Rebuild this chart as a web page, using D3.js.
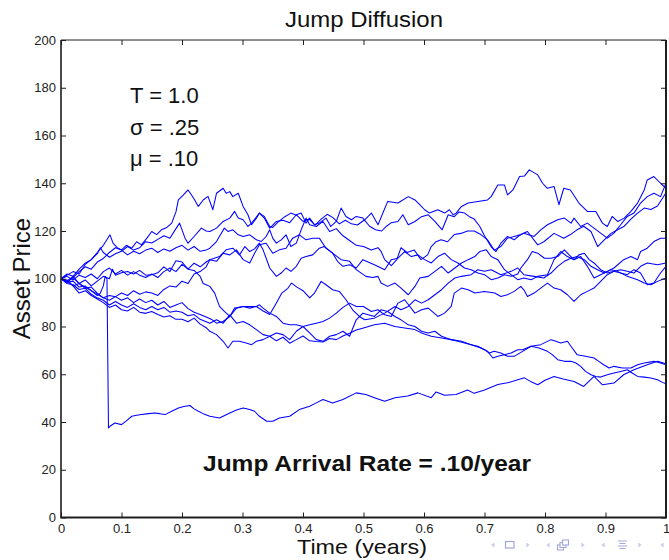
<!DOCTYPE html>
<html><head><meta charset="utf-8">
<script src="https://cdn.jsdelivr.net/npm/d3@7"></script>
<style>html,body{margin:0;padding:0;background:#fff;}svg{display:block;}</style>
</head><body>
<script>
// ---------- data ----------
const xTicks = [0,0.1,0.2,0.3,0.4,0.5,0.6,0.7,0.8,0.9,1];
const xTickLabels = ["0","0.1","0.2","0.3","0.4","0.5","0.6","0.7","0.8","0.9","1"];
const yTicks = [0,20,40,60,80,100,120,140,160,180,200];
const titleText = "Jump Diffusion";
const xLabel = "Time (years)";
const yLabel = "Asset Price";
const paramLines = ["T = 1.0", "\u03C3 = .25", "\u03BC = .10"];
const noteText = "Jump Arrival Rate = .10/year";

// sample paths: [time, price]
const pathHighA = [[0,100],[0.01,101.5],[0.02,103],[0.03,102],[0.04,106],[0.05,108],[0.06,111],[0.07,114],[0.081,118.4],[0.086,114.9],[0.093,113],[0.1,112.1],[0.108,114],[0.117,112.8],[0.125,115.5],[0.133,114.2],[0.142,117],[0.15,119.8],[0.158,118.5],[0.166,120.5],[0.175,121.5],[0.183,123.3],[0.19,128],[0.194,133],[0.202,135],[0.21,137.2],[0.216,135],[0.221,133],[0.227,130.3],[0.235,133],[0.243,134.5],[0.251,128.9],[0.257,135.8],[0.268,137.9],[0.273,135.8],[0.279,136.5],[0.284,134.4],[0.293,135.8],[0.301,130.3],[0.309,126.8],[0.315,122.6],[0.323,125.4],[0.328,127.5],[0.336,126.1],[0.345,121.9],[0.35,121.5],[0.36,124],[0.37,126],[0.38,127.5],[0.39,126.5],[0.4,124],[0.41,125],[0.42,122.5],[0.43,125],[0.44,127],[0.45,125.5],[0.46,123],[0.47,124.5],[0.48,123],[0.49,122.5],[0.502,124.7],[0.513,127.5],[0.524,122.6],[0.54,132.4],[0.557,131.7],[0.574,134.4],[0.585,133],[0.593,131],[0.601,128.9],[0.609,127.5],[0.623,128.9],[0.634,127.5],[0.642,128.9],[0.648,126.8],[0.653,127.5],[0.662,130.3],[0.673,131.7],[0.689,132.4],[0.705,133],[0.711,134.4],[0.722,139.3],[0.733,139.3],[0.738,135.1],[0.747,137.2],[0.758,142.8],[0.766,143],[0.774,145.6],[0.788,143.5],[0.796,140],[0.804,137.9],[0.815,138.6],[0.823,131],[0.831,137.9],[0.842,137.2],[0.856,131.7],[0.87,128.2],[0.884,128.2],[0.895,123.3],[0.903,121.9],[0.911,126.1],[0.92,124],[0.931,125.4],[0.942,128.2],[0.953,131.7],[0.964,137.2],[0.969,141.4],[0.98,142.8],[0.991,140],[1.0,137.9]];
const pathHighB = [[0,100],[0.01,102],[0.02,101],[0.03,104],[0.04,106.5],[0.05,108],[0.06,110.5],[0.065,113],[0.07,111],[0.08,109],[0.09,110.5],[0.1,111.5],[0.11,113.5],[0.12,112],[0.13,113],[0.14,115.5],[0.15,115],[0.16,116.5],[0.17,118],[0.18,117],[0.19,121],[0.196,123.3],[0.205,117],[0.21,114.9],[0.22,117.7],[0.232,121.2],[0.24,120],[0.246,119.8],[0.257,121.2],[0.268,124],[0.279,125.4],[0.287,128.2],[0.293,125.4],[0.301,124.7],[0.309,121.9],[0.315,123.3],[0.328,127.5],[0.336,125.4],[0.345,121.2],[0.356,124],[0.367,124.5],[0.378,123.5],[0.389,126.8],[0.397,127.5],[0.405,123.3],[0.411,125.4],[0.419,122.6],[0.427,123.3],[0.438,125.4],[0.446,121.9],[0.455,124],[0.463,129.6],[0.471,126.1],[0.48,124.7],[0.488,126.1],[0.499,125.4],[0.51,122],[0.52,120.5],[0.53,120],[0.538,122],[0.546,123.5],[0.557,124],[0.565,126.8],[0.574,122.6],[0.585,124],[0.596,126],[0.607,126.8],[0.618,124],[0.63,120.5],[0.64,126.8],[0.65,126],[0.658,128],[0.667,127.5],[0.675,126],[0.683,125],[0.692,122],[0.7,118],[0.711,113.4],[0.719,111.4],[0.727,114.9],[0.738,117.7],[0.749,116.3],[0.757,118],[0.765,119.1],[0.782,117.7],[0.793,120.5],[0.804,122.6],[0.821,124.7],[0.832,125.4],[0.843,123.3],[0.848,125.4],[0.859,121.9],[0.87,123.3],[0.881,121.2],[0.892,119.1],[0.903,117],[0.914,119.1],[0.925,122.6],[0.936,126.1],[0.947,127.5],[0.958,131.7],[0.969,134.4],[0.98,135.8],[0.991,134.4],[1.0,140]];
const pathHighC = [[0,100],[0.01,98.5],[0.02,100.5],[0.03,103],[0.04,105],[0.05,104],[0.06,107],[0.07,108.5],[0.08,111],[0.09,113],[0.1,112],[0.11,110],[0.12,111.5],[0.13,110.5],[0.14,112],[0.15,112.8],[0.16,111],[0.17,112.5],[0.18,111.5],[0.19,113],[0.2,114],[0.21,112],[0.22,113.5],[0.23,111.5],[0.24,112],[0.246,112.8],[0.257,115.6],[0.265,119.1],[0.27,121.2],[0.276,119.8],[0.284,120.5],[0.293,118.4],[0.301,117.7],[0.312,118.4],[0.323,116.3],[0.331,115.6],[0.339,117.7],[0.345,120.5],[0.35,117],[0.356,114.9],[0.364,116.3],[0.372,118.4],[0.38,113.5],[0.389,114.9],[0.397,120.5],[0.405,125.4],[0.411,122.6],[0.422,121.9],[0.433,124],[0.444,119.8],[0.455,121],[0.466,118],[0.477,116],[0.488,114],[0.5,113.5],[0.513,112],[0.524,113],[0.529,111.5],[0.535,108],[0.546,105.5],[0.555,108],[0.562,113],[0.572,111],[0.584,112],[0.595,108],[0.606,110],[0.612,113.5],[0.62,115.5],[0.628,116.3],[0.639,115.5],[0.65,118.5],[0.661,119],[0.672,120],[0.683,120],[0.694,118.5],[0.705,116.3],[0.716,112],[0.727,113.5],[0.738,117],[0.749,117.7],[0.76,118.5],[0.771,119.8],[0.788,114.2],[0.798,115.5],[0.815,119],[0.831,117],[0.842,118.5],[0.853,120.5],[0.864,122],[0.876,119.8],[0.887,113.5],[0.898,116.3],[0.909,119],[0.92,120.5],[0.931,122],[0.942,125],[0.953,127.5],[0.964,129.6],[0.975,129],[0.986,130.5],[1.0,136]];
const pathMidA = [[0,100],[0.01,101],[0.02,99.5],[0.03,101.5],[0.04,100.5],[0.05,102],[0.06,100],[0.07,103],[0.08,104.5],[0.09,102],[0.1,103.5],[0.11,101.5],[0.12,103],[0.13,101.5],[0.14,100.5],[0.15,102],[0.16,100.5],[0.17,103],[0.18,104.5],[0.19,103],[0.2,106],[0.21,104],[0.22,106.5],[0.23,105],[0.24,107],[0.246,108],[0.262,109.3],[0.273,112.1],[0.284,112.8],[0.295,110],[0.304,113.5],[0.312,111.4],[0.32,112.5],[0.328,114.9],[0.334,112.1],[0.345,104.5],[0.356,101],[0.364,102.4],[0.372,104.5],[0.38,103.1],[0.389,105.2],[0.397,108.6],[0.405,109.3],[0.416,110],[0.427,112.8],[0.435,113.5],[0.449,110.7],[0.457,107.3],[0.466,105.2],[0.477,105.9],[0.488,104.5],[0.499,108],[0.518,105.9],[0.535,103.8],[0.546,108],[0.557,108.6],[0.568,111.4],[0.579,109.3],[0.59,110],[0.601,108],[0.612,106.6],[0.623,109.3],[0.634,110.7],[0.645,108],[0.656,106.6],[0.667,104.5],[0.678,103.8],[0.689,102.4],[0.7,101.7],[0.711,99.6],[0.722,100.3],[0.733,101.7],[0.744,101],[0.755,102],[0.76,104.5],[0.771,108],[0.779,111.4],[0.788,110.7],[0.799,108.6],[0.81,108.6],[0.821,109.3],[0.832,112.1],[0.84,110],[0.848,108],[0.856,110],[0.865,110.7],[0.873,108],[0.881,106.6],[0.892,103.8],[0.903,102.4],[0.914,103.1],[0.925,103.8],[0.936,103.1],[0.947,102.4],[0.958,105.2],[0.969,106.6],[0.986,105.9],[1.0,106.6]];
const pathMidB = [[0,100],[0.01,99.5],[0.02,97],[0.03,98],[0.04,96],[0.05,96.5],[0.06,94],[0.07,92],[0.08,93],[0.09,92.5],[0.1,94],[0.11,93],[0.12,95],[0.13,93.5],[0.14,94.5],[0.15,94],[0.16,93],[0.17,95.5],[0.18,97],[0.19,96.5],[0.2,99],[0.21,98],[0.22,102],[0.23,103],[0.24,105],[0.246,108],[0.257,107.3],[0.268,110.7],[0.279,110],[0.29,112.1],[0.301,108],[0.312,106.6],[0.32,110.7],[0.328,114.2],[0.339,114.9],[0.35,110.7],[0.361,112.1],[0.372,112.8],[0.383,117],[0.394,118.4],[0.405,116.3],[0.416,117],[0.427,117],[0.438,112.8],[0.449,110.7],[0.463,108],[0.477,107.3],[0.488,103.8],[0.504,101],[0.515,100.5],[0.524,101],[0.529,98.2],[0.54,96.8],[0.552,98.2],[0.562,96.1],[0.574,93.3],[0.585,96.8],[0.593,100.3],[0.607,101],[0.618,103.1],[0.629,105.2],[0.64,102.4],[0.651,104.5],[0.662,106.6],[0.673,108],[0.684,109.3],[0.692,111.4],[0.703,112.1],[0.711,109.3],[0.722,108],[0.733,103.8],[0.744,101.7],[0.755,99.6],[0.765,100.3],[0.777,99.6],[0.788,101],[0.804,101.7],[0.815,108],[0.826,111.4],[0.837,109.3],[0.848,108],[0.859,109.3],[0.87,105.2],[0.881,100.3],[0.892,101.7],[0.903,103.1],[0.914,104.5],[0.93,108],[0.942,109.3],[0.953,108],[0.958,111.4],[0.969,112.8],[0.98,115.6],[0.991,117],[1.0,117]];
const pathMidC = [[0,100],[0.01,99],[0.02,100.5],[0.03,98],[0.04,99.5],[0.05,97],[0.06,99],[0.07,101],[0.08,100],[0.085,104],[0.09,101.5],[0.1,102.5],[0.11,103],[0.12,102],[0.13,103.5],[0.14,101.5],[0.15,101.7],[0.16,102.5],[0.17,105],[0.18,103],[0.19,107.5],[0.2,107],[0.21,104],[0.22,103.5],[0.23,101],[0.235,98],[0.24,97.5],[0.246,96.8],[0.254,94],[0.262,88.4],[0.27,86.3],[0.279,84.2],[0.287,87.7],[0.301,88.4],[0.312,88.4],[0.323,88.4],[0.328,89.1],[0.334,87.7],[0.345,85.6],[0.356,84.2],[0.367,81.4],[0.378,80.7],[0.389,80.7],[0.4,80],[0.411,80.7],[0.422,81.4],[0.433,82.1],[0.444,83.5],[0.455,85.6],[0.466,88],[0.477,89.8],[0.488,88.4],[0.5,88.4],[0.513,86.3],[0.524,87],[0.535,84.9],[0.546,84.2],[0.557,89.8],[0.568,91.2],[0.585,85.6],[0.596,87],[0.607,87.7],[0.623,84.2],[0.634,85.6],[0.645,88.4],[0.65,94],[0.662,96.1],[0.673,95.4],[0.684,94],[0.7,94.7],[0.717,94],[0.727,92.6],[0.738,93.3],[0.749,94.7],[0.76,96.8],[0.766,95],[0.771,92.6],[0.782,94],[0.793,96.1],[0.804,98.2],[0.815,96.1],[0.826,95.4],[0.837,93.3],[0.848,90.5],[0.859,93.3],[0.87,94.7],[0.881,96.1],[0.892,98.9],[0.903,101.7],[0.914,103.1],[0.925,102.4],[0.936,101.7],[0.947,103.8],[0.958,102.4],[0.969,97.5],[0.98,98.2],[0.991,102.4],[1.0,105.2]];
const pathMidD = [[0,100],[0.01,98.5],[0.02,99],[0.03,96.5],[0.04,97],[0.05,95],[0.06,93.5],[0.07,92],[0.08,91],[0.09,92.5],[0.1,91],[0.11,92],[0.12,90],[0.13,91.5],[0.14,90],[0.15,91],[0.16,89],[0.17,90.5],[0.18,88],[0.19,89],[0.2,90],[0.21,87.5],[0.22,86],[0.23,85],[0.24,84],[0.25,82.8],[0.257,81.4],[0.268,82.1],[0.279,84.2],[0.29,87.7],[0.301,88.4],[0.312,87.7],[0.323,88.4],[0.334,86.5],[0.345,85],[0.356,89.8],[0.365,94],[0.375,96],[0.381,98.2],[0.39,96.5],[0.4,95],[0.411,92],[0.419,94],[0.43,98.9],[0.438,97.5],[0.449,95.4],[0.46,94.7],[0.471,91.2],[0.482,87],[0.493,84.2],[0.502,82.8],[0.518,83.5],[0.535,85.6],[0.552,88.4],[0.562,87],[0.574,88.4],[0.585,91.2],[0.596,89.8],[0.607,91.2],[0.618,93.3],[0.629,95.4],[0.64,98.2],[0.651,100.3],[0.662,101],[0.678,101.7],[0.689,103.8],[0.7,103.1],[0.711,103.8],[0.727,101.7],[0.744,103.1],[0.755,104.5],[0.765,101.7],[0.782,101],[0.798,100.3],[0.81,102.4],[0.821,105.2],[0.832,107.3],[0.843,108.6],[0.853,109.3],[0.865,108],[0.876,105.2],[0.887,103.8],[0.898,102.4],[0.909,103.8],[0.92,103.1],[0.936,101],[0.953,99.6],[0.964,98.2],[0.975,97.5],[0.986,98.9],[1.0,100.3]];
const pathLowA = [[0,100],[0.01,98],[0.02,97.5],[0.03,95.5],[0.04,96],[0.05,93.5],[0.06,92],[0.07,91],[0.08,89],[0.09,90.5],[0.1,89],[0.11,88],[0.12,89.5],[0.13,88],[0.14,87],[0.15,88.4],[0.16,87],[0.17,88],[0.18,86],[0.19,86.5],[0.2,86],[0.21,84.5],[0.22,85],[0.23,83],[0.24,82],[0.246,81.4],[0.257,82.8],[0.268,81.4],[0.279,84.9],[0.29,81.4],[0.301,82.1],[0.312,80.7],[0.323,78.7],[0.334,76.6],[0.345,75.9],[0.356,77.3],[0.367,76.6],[0.378,74.5],[0.389,78],[0.4,80],[0.411,77.3],[0.422,74.5],[0.433,73.8],[0.444,75.9],[0.455,76.6],[0.466,78],[0.477,75.9],[0.488,82.8],[0.499,85.6],[0.518,84.2],[0.529,87],[0.54,86.3],[0.552,84.2],[0.562,82.8],[0.574,80.7],[0.585,80],[0.596,78],[0.607,77.3],[0.618,78],[0.629,75.9],[0.645,74.5],[0.656,73.8],[0.667,73.1],[0.678,72.4],[0.689,71.7],[0.7,70.3],[0.708,68.9],[0.716,69.6],[0.727,68.9],[0.738,67.5],[0.749,67.5],[0.763,69.6],[0.777,71.7],[0.793,72.4],[0.81,74.5],[0.818,73.8],[0.826,73.1],[0.837,73.8],[0.845,71],[0.853,68.2],[0.867,67.5],[0.881,66.8],[0.889,65.4],[0.897,64],[0.906,62.6],[0.914,63.3],[0.928,62.6],[0.942,62.6],[0.953,64],[0.964,64.7],[0.98,65.4],[0.991,64.7],[1.0,64]];
const pathLowB = [[0,100],[0.01,99],[0.02,97],[0.03,94],[0.04,95],[0.05,93],[0.06,91.5],[0.07,90],[0.08,88],[0.09,89],[0.1,87],[0.11,86.5],[0.12,88],[0.13,86],[0.14,85.5],[0.15,86.3],[0.16,85],[0.17,84],[0.18,84.5],[0.19,83],[0.2,83],[0.21,82],[0.22,83.5],[0.23,81],[0.24,79.5],[0.246,78],[0.257,76.6],[0.268,73.8],[0.276,71],[0.284,73.8],[0.295,73.8],[0.306,73.1],[0.315,72.4],[0.323,73.8],[0.334,74.5],[0.345,75.9],[0.356,74],[0.367,75.5],[0.378,73],[0.389,74.5],[0.4,76],[0.411,74],[0.422,73.7],[0.433,73.5],[0.444,75],[0.455,74.5],[0.466,76],[0.477,77.2],[0.488,78.5],[0.5,79.4],[0.518,80.7],[0.535,81.4],[0.552,80],[0.568,79.4],[0.585,78.7],[0.596,77.3],[0.612,75.9],[0.629,75.2],[0.645,74.5],[0.662,73.8],[0.678,72.4],[0.694,71],[0.705,69.6],[0.714,66.8],[0.722,67.5],[0.733,68.2],[0.744,68.9],[0.755,70.3],[0.763,70.3],[0.777,71.7],[0.79,71],[0.804,69.6],[0.812,68.2],[0.821,66.1],[0.832,65.4],[0.843,65.4],[0.851,64.7],[0.859,63.3],[0.867,61.2],[0.876,59.8],[0.884,59.1],[0.892,58.8],[0.903,59.8],[0.914,60.5],[0.925,61.2],[0.936,61.9],[0.944,60.5],[0.953,59.1],[0.964,58.8],[0.975,58.4],[0.986,57.7],[0.994,56.6],[1.0,56]];
const pathJump = [[0,100],[0.01,99],[0.02,101],[0.03,98],[0.04,96.5],[0.05,95],[0.06,93],[0.065,94],[0.07,97],[0.073,101],[0.076,100],[0.0785,37.5],[0.081,38.2],[0.089,39.6],[0.1,38.9],[0.108,40.5],[0.117,42.4],[0.125,42.8],[0.133,43.1],[0.145,43.5],[0.155,43.8],[0.163,43.5],[0.172,43.1],[0.183,44.5],[0.194,45.9],[0.203,46.5],[0.213,46.9],[0.22,45.5],[0.227,44.5],[0.235,43.5],[0.246,42.4],[0.262,41.7],[0.279,43.8],[0.29,45],[0.301,45.9],[0.312,45.2],[0.32,44.5],[0.328,42.4],[0.34,40.3],[0.35,40.3],[0.361,41.7],[0.378,42.4],[0.394,45.2],[0.411,46.6],[0.422,48],[0.433,49.4],[0.449,48],[0.466,49.4],[0.488,52.2],[0.504,51.5],[0.518,50.2],[0.535,48.7],[0.552,50.2],[0.573,50.9],[0.59,52.2],[0.612,50.2],[0.62,52.6],[0.634,51.2],[0.653,51.5],[0.672,53.4],[0.683,52],[0.7,53.4],[0.722,55.7],[0.738,56.4],[0.755,57.7],[0.766,58.5],[0.776,57],[0.788,55.6],[0.8,57.5],[0.815,59.1],[0.83,58],[0.848,57],[0.864,54.9],[0.881,59.1],[0.895,55.6],[0.914,56.3],[0.93,59.8],[0.947,61.9],[0.969,64],[0.986,65.4],[1.0,64.4]];

const paths = [pathHighA, pathHighB, pathHighC, pathMidA, pathMidB, pathMidC, pathMidD, pathLowA, pathLowB, pathJump];

// ---------- drawing ----------
const W = 669, H = 560;
const FONT = "'Liberation Sans', Arial, Helvetica, sans-serif";
const svg = d3.select("body").append("svg").attr("width", W).attr("height", H)
  .style("font-family", FONT);

const x = d3.scaleLinear().domain([0, 1]).range([61, 666]);
const y = d3.scaleLinear().domain([0, 200]).range([517.5, 40]);

// lines
const line = d3.line().x(d => x(d[0])).y(d => y(d[1]));
svg.append("g").selectAll("path").data(paths).join("path")
  .attr("d", line).attr("fill", "none")
  .attr("stroke", "#0000ff").attr("stroke-width", 1.05)
  .attr("stroke-linejoin", "round");

// axes (ticks inward on all four sides)
const axisColor = "#1e1e1e";
function styleAxis(g) {
  g.select(".domain").remove();
  g.selectAll(".tick line").attr("stroke", axisColor).attr("stroke-width", 1);
  g.selectAll(".tick text").attr("fill", "#222").style("font-size", "13px").style("font-family", FONT);
}
svg.append("g").attr("transform", `translate(0,${y(0)})`)
  .call(d3.axisBottom(x).tickValues(xTicks).tickFormat((d, i) => xTickLabels[i])
    .tickSizeInner(-5).tickSizeOuter(0).tickPadding(6)).call(styleAxis);
svg.append("g").attr("transform", `translate(0,${y(200)})`)
  .call(d3.axisTop(x).tickValues(xTicks).tickFormat("")
    .tickSizeInner(-5).tickSizeOuter(0)).call(styleAxis);
svg.append("g").attr("transform", `translate(${x(0)},0)`)
  .call(d3.axisLeft(y).tickValues(yTicks).tickFormat(d3.format("d"))
    .tickSizeInner(-5).tickSizeOuter(0).tickPadding(5)).call(styleAxis);
svg.append("g").attr("transform", `translate(${x(1)},0)`)
  .call(d3.axisRight(y).tickValues(yTicks).tickFormat("")
    .tickSizeInner(-5).tickSizeOuter(0)).call(styleAxis);

// box
const box = svg.append("g").attr("stroke", axisColor).attr("fill", "none");
box.append("line").attr("x1", x(0)).attr("x2", x(1)).attr("y1", y(200)).attr("y2", y(200)).attr("stroke-width", 1);
box.append("line").attr("x1", x(0) - 0.7).attr("x2", x(1) + 1).attr("y1", y(0)).attr("y2", y(0)).attr("stroke-width", 2);
box.append("line").attr("x1", x(0)).attr("x2", x(0)).attr("y1", y(200)).attr("y2", y(0)).attr("stroke-width", 1.6);
box.append("line").attr("x1", x(1)).attr("x2", x(1)).attr("y1", y(200)).attr("y2", y(0)).attr("stroke-width", 2);

// texts
svg.append("text").attr("x", 364).attr("y", 27).attr("text-anchor", "middle")
  .style("font-size", "22px").attr("textLength", 158).attr("lengthAdjust", "spacingAndGlyphs")
  .attr("fill", "#111").text(titleText);
svg.append("text").attr("x", 362).attr("y", 554).attr("text-anchor", "middle")
  .style("font-size", "21px").attr("textLength", 130).attr("lengthAdjust", "spacingAndGlyphs")
  .attr("fill", "#111").text(xLabel);
svg.append("text").attr("transform", "translate(29.5,278.5) rotate(-90)").attr("text-anchor", "middle")
  .style("font-size", "24px").attr("fill", "#111").text(yLabel);

const paramY = [103, 135, 166];
svg.append("g").selectAll("text").data(paramLines).join("text")
  .attr("x", 130).attr("y", (d, i) => paramY[i])
  .style("font-size", "22px").attr("fill", "#111").text(d => d);

svg.append("text").attr("x", 203).attr("y", 471).style("font-size", "22px")
  .style("font-weight", "bold").attr("textLength", 328).attr("lengthAdjust", "spacingAndGlyphs")
  .attr("fill", "#111").text(noteText);

// beamer navigation symbols
const nav = svg.append("g");
const triCol = "#c9cbee", iconCol = "#a3a6dd";
const leftTri = [492.7, 548, 603, 662];
const rightTri = [528, 583, 640];
leftTri.forEach(cx => nav.append("path").attr("d", `M${cx+1.6},542.5 L${cx-1.6},545 L${cx+1.6},547.5 Z`).attr("fill", triCol));
rightTri.forEach(cx => nav.append("path").attr("d", `M${cx-1.6},542.5 L${cx+1.6},545 L${cx-1.6},547.5 Z`).attr("fill", triCol));
nav.append("rect").attr("x", 505.5).attr("y", 541.5).attr("width", 8.5).attr("height", 6.5)
  .attr("fill", "none").attr("stroke", iconCol).attr("stroke-width", 1.2);
[[557.5, 545], [560, 542.5], [562.5, 540]].forEach(p => nav.append("rect")
  .attr("x", p[0]).attr("y", p[1]).attr("width", 6).attr("height", 5)
  .attr("fill", "#fff").attr("stroke", iconCol).attr("stroke-width", 1.1));
[541, 543.5, 546, 548.5].forEach((yy, i) => nav.append("line")
  .attr("x1", 618 + (i % 2 ? 1.5 : 0)).attr("x2", 627 - (i % 2 ? 1.5 : 0)).attr("y1", yy).attr("y2", yy)
  .attr("stroke", iconCol).attr("stroke-width", 1));
</script>
</body></html>
